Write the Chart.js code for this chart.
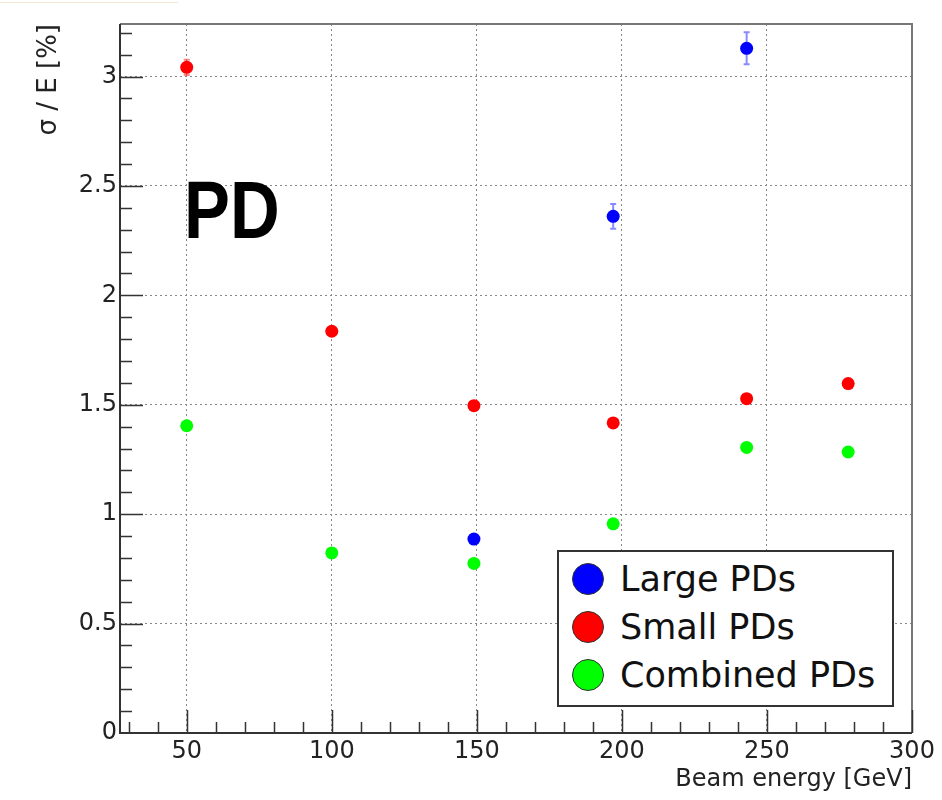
<!DOCTYPE html>
<html>
<head>
<meta charset="utf-8">
<title>Energy resolution vs beam energy</title>
<script src="https://cdn.jsdelivr.net/npm/chart.js@4.4.1/dist/chart.umd.min.js"></script>
<style>
  html, body { margin: 0; padding: 0; background: #fff; }
  #wrap { position: relative; width: 942px; height: 800px; overflow: hidden; }
  #resChart { position: absolute; left: 0; top: 0; }
  #topRule { position: absolute; left: 0; top: 2px; width: 178px; height: 1px; background: #f2e8d4; }
  #tag { position: absolute; left: 184px; top: 170px; font: bold 81px "Liberation Sans", sans-serif; line-height: 80px; color: #000;
         transform: scaleX(0.85); transform-origin: left top; }
  #legend { position: absolute; left: 557px; top: 550px; width: 333px; height: 150px; padding-top: 3px;
            border: 2px solid #333; background: #fff; }
  .leg-row { display: flex; align-items: center; height: 48px; }
  .leg-dot { width: 30px; height: 30px; border-radius: 50%; border: 1.5px solid #333; margin-left: 13px; margin-right: 16px; }
  .leg-text { font: 35px "DejaVu Sans", sans-serif; color: #111; }
</style>
</head>
<body>
<div id="wrap">
  <canvas id="resChart" width="942" height="800"></canvas>
  <div id="topRule"></div>
  <div id="tag">PD</div>
  <div id="legend"></div>
</div>
<script>
// Beam energy [GeV] and relative resolution sigma/E [%] per readout
const largeEnergy = [149, 197, 243];
const largeSigma = [0.886, 2.361, 3.129];
const largeError = [0.012, 0.057, 0.073];

const smallEnergy = [50, 100, 149, 197, 243, 278];
const smallSigma = [3.042, 1.836, 1.496, 1.417, 1.528, 1.597];
const smallError = [0.035, 0.012, 0.01, 0.01, 0.01, 0.01];

const combinedEnergy = [50, 100, 149, 197, 243, 278];
const combinedSigma = [1.404, 0.823, 0.775, 0.956, 1.305, 1.284];
const combinedError = [0.01, 0.008, 0.008, 0.008, 0.01, 0.01];

const seriesLabels = ['Large PDs', 'Small PDs', 'Combined PDs'];
const seriesColors = ['#0000ff', '#ff0000', '#00ff00'];
const errorColors = ['rgba(60,60,255,0.6)', 'rgba(255,60,60,0.6)', 'rgba(0,220,0,0.6)'];

const xTicks = [50, 100, 150, 200, 250, 300];
const yTicks = [0, 0.5, 1, 1.5, 2, 2.5, 3];
const yTickLabels = ['0', '0.5', '1', '1.5', '2', '2.5', '3'];

const X_MIN = 27, X_MAX = 300;
const Y_MIN = 0, Y_MAX = 3.24;

function toPoints(xs, ys) {
    return xs.map((x, i) => ({ x: x, y: ys[i] }));
}

const errors = [largeError, smallError, combinedError];

// Vertical error bars with small caps, drawn under the markers
const errorBars = {
    id: 'errorBars',
    beforeDatasetsDraw(chart) {
        const ctx = chart.ctx;
        const yScale = chart.scales.y;
        ctx.save();
        ctx.lineWidth = 2;
        chart.data.datasets.forEach((ds, i) => {
            const meta = chart.getDatasetMeta(i);
            ctx.strokeStyle = errorColors[i];
            meta.data.forEach((pt, j) => {
                const v = ds.data[j].y;
                const e = errors[i][j];
                const top = yScale.getPixelForValue(v + e);
                const bot = yScale.getPixelForValue(v - e);
                ctx.beginPath();
                ctx.moveTo(pt.x, top);
                ctx.lineTo(pt.x, bot);
                ctx.moveTo(pt.x - 3, top);
                ctx.lineTo(pt.x + 3, top);
                ctx.moveTo(pt.x - 3, bot);
                ctx.lineTo(pt.x + 3, bot);
                ctx.stroke();
            });
        });
        ctx.restore();
    }
};

// ROOT style frame: axes with inward major/minor tick marks
const frame = {
    id: 'frame',
    afterDraw(chart) {
        const ctx = chart.ctx;
        const { left, right, top, bottom } = chart.chartArea;
        const xs = chart.scales.x, ys = chart.scales.y;
        ctx.save();

        ctx.strokeStyle = '#777';
        ctx.lineWidth = 2;
        ctx.beginPath();
        ctx.moveTo(left, top);
        ctx.lineTo(right, top);
        ctx.lineTo(right, bottom);
        ctx.stroke();

        ctx.strokeStyle = '#333';
        ctx.lineWidth = 2;
        ctx.beginPath();
        ctx.moveTo(left, top);
        ctx.lineTo(left, bottom);
        ctx.lineTo(right, bottom);
        ctx.stroke();

        ctx.lineWidth = 1.5;
        ctx.beginPath();
        // x ticks
        for (let v = 30; v <= X_MAX; v += 10) {
            const px = Math.round(xs.getPixelForValue(v)) + 0.5;
            const len = xTicks.includes(v) ? 23 : 11;
            ctx.moveTo(px, bottom);
            ctx.lineTo(px, bottom - len);
        }
        // y ticks
        for (let k = 1; k <= 32; k++) {
            const v = k / 10;
            const py = Math.round(ys.getPixelForValue(v)) + 0.5;
            const len = (k % 5 === 0) ? 23 : 12;
            ctx.moveTo(left, py);
            ctx.lineTo(left + len, py);
        }
        ctx.stroke();
        ctx.restore();
    }
};

const datasets = [
    toPoints(largeEnergy, largeSigma),
    toPoints(smallEnergy, smallSigma),
    toPoints(combinedEnergy, combinedSigma)
].map((pts, i) => ({
    label: seriesLabels[i],
    data: pts,
    backgroundColor: seriesColors[i],
    borderWidth: 0,
    pointRadius: 6.5,
    pointHoverRadius: 6.5,
    showLine: false
}));

const tickFont = { family: '"DejaVu Sans", sans-serif', size: 24 };

const chart = new Chart(document.getElementById('resChart'), {
    type: 'scatter',
    data: { datasets: datasets },
    options: {
        responsive: false,
        animation: false,
        layout: { padding: { top: 24, right: 30, left: 0, bottom: 0 } },
        plugins: {
            legend: { display: false },
            tooltip: { enabled: false }
        },
        scales: {
            x: {
                type: 'linear',
                min: X_MIN,
                max: X_MAX,
                afterBuildTicks: s => { s.ticks = xTicks.map(v => ({ value: v })); },
                afterFit: s => { s.height = 67; },
                ticks: {
                    font: tickFont,
                    color: '#222',
                    padding: 4,
                    maxRotation: 0,
                    callback: v => String(v)
                },
                grid: { color: '#888', lineWidth: 1, drawTicks: false },
                border: { display: false, dash: [2, 3] },
                title: {
                    display: true,
                    text: 'Beam energy [GeV]',
                    align: 'end',
                    color: '#222',
                    font: { family: '"DejaVu Sans", sans-serif', size: 24 },
                    padding: { top: 0, bottom: 6 }
                }
            },
            y: {
                type: 'linear',
                min: Y_MIN,
                max: Y_MAX,
                afterBuildTicks: s => { s.ticks = yTicks.map(v => ({ value: v })); },
                afterFit: s => { s.width = 120; },
                ticks: {
                    font: tickFont,
                    color: '#222',
                    padding: 3,
                    callback: v => yTickLabels[yTicks.indexOf(v)]
                },
                grid: { color: '#888', lineWidth: 1, drawTicks: false },
                border: { display: false, dash: [2, 3] },
                title: {
                    display: true,
                    text: 'σ / E [%]',
                    align: 'end',
                    color: '#222',
                    font: { family: '"DejaVu Sans", sans-serif', size: 26 },
                    padding: { top: 34, bottom: 0 }
                }
            }
        }
    },
    plugins: [errorBars, frame]
});

// HTML legend built from the datasets
const legendBox = document.getElementById('legend');
chart.data.datasets.forEach(ds => {
    const row = document.createElement('div');
    row.className = 'leg-row';
    row.innerHTML = `<span class="leg-dot" style="background:${ds.backgroundColor}"></span>` +
                    `<span class="leg-text">${ds.label}</span>`;
    legendBox.appendChild(row);
});
</script>
</body>
</html>
